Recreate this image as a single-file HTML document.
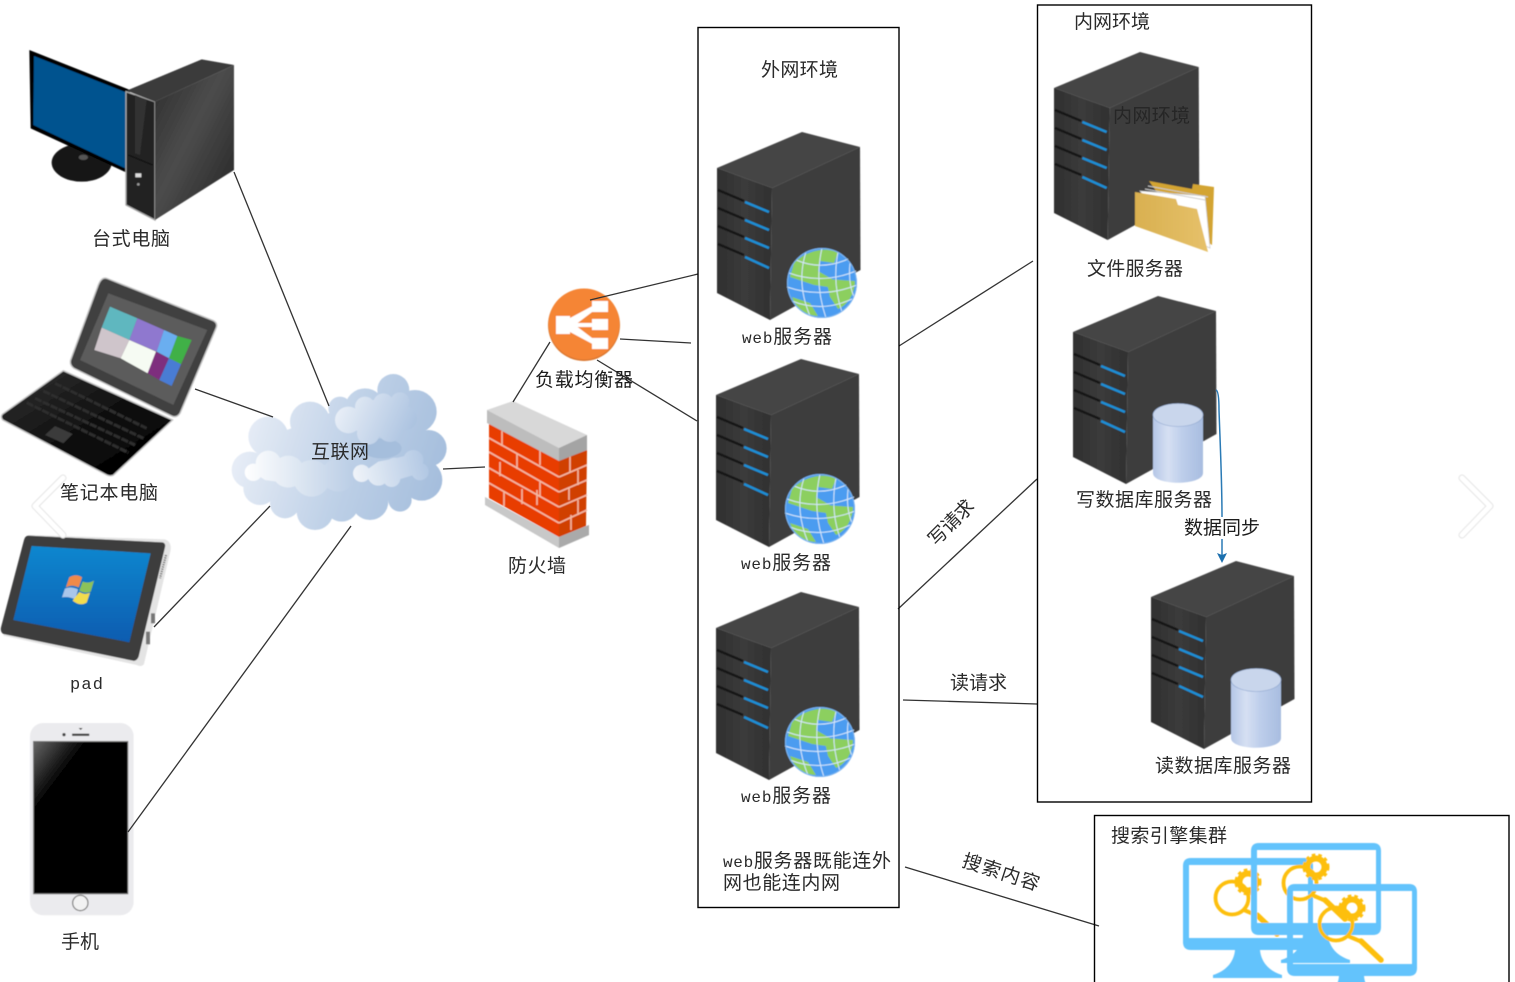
<!DOCTYPE html>
<html><head><meta charset="utf-8"><style>
html,body{margin:0;padding:0;background:#fff;width:1515px;height:982px;overflow:hidden}
svg{display:block}
text{font-family:"Liberation Sans","Noto Sans CJK SC",sans-serif;font-size:19px;fill:#2a2a2a}
.m{font-family:"Liberation Mono","Noto Sans CJK SC",monospace}
.w{font-family:"Liberation Mono",monospace;font-size:16px}
</style></head><body>
<svg width="1515" height="982" viewBox="0 0 1515 982" xmlns="http://www.w3.org/2000/svg">
<defs>
<filter id="b" x="-5%" y="-5%" width="110%" height="110%"><feGaussianBlur stdDeviation="0.45"/></filter>
<filter id="t" x="-5%" y="-20%" width="110%" height="140%"><feGaussianBlur stdDeviation="0.25"/></filter>
<linearGradient id="cl" gradientUnits="userSpaceOnUse" x1="60" y1="200" x2="640" y2="380"><stop offset="0" stop-color="#e6ecf6"/><stop offset=".55" stop-color="#bccfe6"/><stop offset="1" stop-color="#a5bedd"/></linearGradient>
<linearGradient id="c2" gradientUnits="userSpaceOnUse" x1="340" y1="130" x2="570" y2="230"><stop offset="0" stop-color="#e8eef7"/><stop offset="1" stop-color="#a6bfde"/></linearGradient>
<linearGradient id="c4" gradientUnits="userSpaceOnUse" x1="390" y1="340" x2="640" y2="290"><stop offset="0" stop-color="#eff3f9"/><stop offset="1" stop-color="#a8c1e0"/></linearGradient>
<linearGradient id="c3" gradientUnits="userSpaceOnUse" x1="60" y1="320" x2="400" y2="320"><stop offset="0" stop-color="#fff"/><stop offset="1" stop-color="#b7cbe4"/></linearGradient>
<linearGradient id="tw" x1="0" y1="0" x2="1" y2="1"><stop offset="0" stop-color="#2c2c2c"/><stop offset=".45" stop-color="#4c4c4c"/><stop offset="1" stop-color="#222"/></linearGradient>
<linearGradient id="lb" x1="0" y1="0" x2="1" y2="1"><stop offset="0" stop-color="#333"/><stop offset=".6" stop-color="#0a0a0a"/><stop offset="1" stop-color="#000"/></linearGradient>
<linearGradient id="pb" x1="0" y1="0" x2="0" y2="1"><stop offset="0" stop-color="#1187cf"/><stop offset="1" stop-color="#0a5cb0"/></linearGradient>
<linearGradient id="ref" x1="0" y1="0" x2="1" y2="1"><stop offset="0" stop-color="#666"/><stop offset=".45" stop-color="#000"/></linearGradient>
<linearGradient id="db" x1="0" y1="0" x2="1" y2="0"><stop offset="0" stop-color="#b4c6e6"/><stop offset=".3" stop-color="#d6e0f3"/><stop offset=".6" stop-color="#bccdea"/><stop offset="1" stop-color="#a8bde0"/></linearGradient>
<linearGradient id="fd" x1="0" y1="0" x2="1" y2="0"><stop offset="0" stop-color="#d9b050"/><stop offset="1" stop-color="#e6c16a"/></linearGradient>
<linearGradient id="frn" x1="0" y1="0" x2="1" y2="0"><stop offset="0" stop-color="#2f2f2f"/><stop offset=".5" stop-color="#3b3b3b"/><stop offset="1" stop-color="#303030"/></linearGradient>

<g id="server">
 <polygon points="0,36 85,0 143,15 55,56" fill="#454545"/>
 <polygon points="55,56 143,15 143.5,138 53,188" fill="#3e3e3e"/>
 <polygon points="0,36 55,56 53,188 0,161" fill="url(#frn)"/>
 <g fill="none">
  <path d="M1 58 L27 69" stroke="#171717" stroke-width="2.4"/><path d="M28 70 L52 80" stroke="#1a8fd6" stroke-width="2.4"/>
  <path d="M1 76 L27 87" stroke="#171717" stroke-width="2.4"/><path d="M28 88 L52 98" stroke="#1a8fd6" stroke-width="2.4"/>
  <path d="M1 94 L27 105" stroke="#171717" stroke-width="2.4"/><path d="M28 106 L52 116" stroke="#1a8fd6" stroke-width="2.4"/>
  <path d="M1 112 L27 123" stroke="#171717" stroke-width="2.4"/><path d="M28 125 L52 136" stroke="#1a8fd6" stroke-width="2.4"/>
 </g>
</g>

<g id="globe">
 <circle cx="0" cy="0" r="35" fill="#4b9cf0"/>
 <path d="M-28 -20 C-14 -34 6 -36 16 -30 L12 -20 L-2 -22 L-4 -12 L10 -4 L6 4 L-8 2 L-20 -2 L-32 -6 Z" fill="#8ccf5e"/>
 <path d="M4 -4 L33 -2 C33 10 26 22 16 26 L8 14 Z" fill="#8ccf5e"/>
 <path d="M-30 14 L-12 20 L-4 33 C-14 33 -26 26 -30 14 Z" fill="#8ccf5e"/>
 <g fill="none" stroke="#d6e8fb" stroke-width="1">
  <path d="M-33 -10 Q0 2 34 -12 M-35 4 Q0 16 35 2 M-30 18 Q0 30 30 16 M-26 -23 Q0 -12 26 -24"/>
  <path d="M-16 -31 Q-26 0 -12 33 M0 -35 Q-8 0 4 35 M16 -31 Q10 0 20 29 M28 -20 Q26 0 32 14"/>
 </g>
 <circle cx="0" cy="0" r="34.5" fill="none" stroke="#7fb5ef" stroke-width="1"/>
</g>

<g id="db1">
 <path d="M0 12 C0 -3 50 -3 50 12 L50 70 C50 83 0 83 0 70 Z" fill="url(#db)"/>
 <ellipse cx="25" cy="12" rx="25" ry="11.5" fill="#c9d6ec" stroke="#8fa7cf" stroke-width=".6"/>
</g>

<g id="mag">
 <circle cx="1232" cy="898" r="16.5" fill="none" stroke="#fdbf10" stroke-width="3.8"/>
 <path d="M1257 915 L1277 934" stroke="#fdbf10" stroke-width="5.5" stroke-linecap="round"/>
 <path d="M1244 910 L1258 916" stroke="#fdbf10" stroke-width="4"/>
 <circle cx="1248" cy="882" r="8.5" fill="none" stroke="#fdbf10" stroke-width="6"/>
 <circle cx="1248" cy="882" r="12" fill="none" stroke="#fdbf10" stroke-width="3" stroke-dasharray="3.5 3"/>
</g>
<g id="mon" fill="#64c3fc">
 <path fill-rule="evenodd" d="M8 0 H122 Q130 0 130 8 V84 Q130 92 122 92 H8 Q0 92 0 84 V8 Q0 0 8 0 Z M6 7 V80 H125 V7 Z"/>
 <path d="M52 92 H77 C78 104 86 113 99 117 V120 H30 V117 C43 113 51 104 52 92 Z"/>
</g>
</defs>

<g filter="url(#b)">
<!-- desktop -->
<g transform="translate(0,30) scale(.3333)">
 <ellipse cx="245" cy="398" rx="90" ry="57" fill="#151515"/>
 <ellipse cx="250" cy="382" rx="14" ry="8" fill="#555"/>
 <polygon points="88,60 390,180 380,428 92,295" fill="#050505"/>
 <polygon points="102,78 385,190 376,415 100,285" fill="#03528f"/>
 <polygon points="378,185 465,215 465,570 378,525" fill="#222" stroke="#a8a8a8" stroke-width="4"/>
 <polygon points="405,195 440,210 420,375 405,370" fill="#333"/>
 <path d="M385 375 L458 405" stroke="#111" stroke-width="3"/>
 <rect x="406" y="430" width="18" height="12" fill="#ddd"/><circle cx="415" cy="463" r="4" fill="#999"/>
 <polygon points="380,182 605,88 702,105 465,215" fill="#3a3a3a"/>
 <polygon points="465,215 702,105 702,420 465,570" fill="url(#tw)"/>
</g>

<!-- laptop -->
<g transform="translate(0,30) scale(.3333)">
 <path d="M320 745 L640 872 Q655 880 648 895 L540 1150 Q530 1165 515 1158 L222 1015 Q208 1005 212 990 L295 765 Q305 740 320 745 Z" fill="#3f3f3f" stroke="#c4c4c4" stroke-width="4"/>
 <polygon points="325,790 622,900 520,1125 240,990" fill="#5c5c5c"/>
 <polygon points="330,830 412,865 388,930 305,893" fill="#5fb7bf"/>
 <polygon points="412,865 492,900 470,965 388,930" fill="#8f78cf"/>
 <polygon points="492,900 532,918 507,985 470,965" fill="#6aaef0"/>
 <polygon points="532,918 575,930 543,1003 507,985" fill="#40b047"/>
 <polygon points="305,893 388,930 362,985 283,960" fill="#cfc5cb"/>
 <polygon points="388,930 468,965 443,1030 362,985" fill="#f6fbf3"/>
 <polygon points="468,965 507,985 478,1050 443,1030" fill="#7e2d7e"/>
 <polygon points="507,985 543,1003 515,1068 478,1050" fill="#4a7bd4"/>
 <path d="M190 1022 L518 1170 L340 1336 Q330 1340 320 1335 L8 1170 Q0 1160 8 1152 Z" fill="url(#lb)" stroke="#c8c8c8" stroke-width="4"/>
 <g stroke="#2e2e2e" stroke-width="9" stroke-dasharray="22 4" fill="none">
  <path d="M165 1060 L440 1195"/><path d="M130 1083 L430 1225"/><path d="M105 1105 L405 1245"/><path d="M80 1118 L385 1268"/>
 </g>
 <polygon points="165,1188 218,1212 190,1240 135,1215" fill="#3a3a3a"/>
</g>

<!-- pad -->
<g transform="translate(0,470) scale(.3333)">
 <path d="M85 195 L495 208 Q515 215 512 240 L432 582 Q425 592 410 585 L10 497 Z" fill="#e4e4e4"/>
 <path d="M85 197 L488 217 Q498 220 495 232 L416 560 Q410 575 398 572 L10 492 Q0 485 3 472 L72 210 Q75 198 85 197 Z" fill="#3d3d3d"/>
 <polygon points="95,228 452,250 388,517 40,450" fill="url(#pb)"/>
 <path d="M208 322 Q228 310 246 322 L236 352 Q215 342 198 352 Z" fill="#ef8a4a"/>
 <path d="M248 335 Q265 342 282 332 L272 365 Q255 372 238 362 Z" fill="#8cc25a"/>
 <path d="M195 356 Q212 348 234 358 L226 388 Q205 378 186 382 Z" fill="#a9c6ea"/>
 <path d="M238 366 Q255 376 270 368 L260 398 Q240 410 218 392 Z" fill="#f2dc4e"/>
 <g fill="#777"><rect x="453" y="430" width="12" height="30"/><rect x="438" y="485" width="12" height="38"/></g>
 <path d="M498 255 L480 325" stroke="#777" stroke-width="7" stroke-dasharray="4 3"/>
</g>

<!-- phone -->
<g transform="translate(0,470) scale(.3333)">
 <rect x="90" y="759" width="311" height="577" rx="40" fill="#ebebee"/>
 <rect x="99" y="813" width="286" height="460" fill="#777"/>
 <rect x="102" y="816" width="280" height="454" fill="#000"/>
 <polygon points="102,816 280,816 102,1050" fill="url(#ref)"/>
 <rect x="216" y="791" width="52" height="7" rx="2" fill="#444"/><circle cx="192" cy="794" r="5" fill="#444"/><path d="M236 774 H248 L242 780 Z" fill="#333"/>
 <circle cx="241" cy="1299" r="23" fill="#f2f2f2" stroke="#777" stroke-width="3.5"/>
</g>

<!-- cloud -->
<g transform="translate(225,365) scale(.3333)">
 <g fill="url(#cl)">
  <polygon points="75,315 130,215 255,170 345,130 420,130 505,75 570,140 610,250 590,345 525,405 435,410 350,420 270,440 180,415 105,370"/>
  <circle cx="75" cy="315" r="55"/><circle cx="130" cy="215" r="60"/><circle cx="255" cy="170" r="60"/><circle cx="345" cy="130" r="35"/><circle cx="420" cy="130" r="60"/><circle cx="505" cy="75" r="48"/><circle cx="570" cy="140" r="65"/><circle cx="610" cy="250" r="55"/><circle cx="590" cy="345" r="62"/><circle cx="525" cy="405" r="35"/><circle cx="435" cy="410" r="55"/><circle cx="350" cy="420" r="50"/><circle cx="270" cy="440" r="55"/><circle cx="180" cy="415" r="45"/><circle cx="105" cy="370" r="50"/>
 </g>
 <ellipse cx="470" cy="250" rx="60" ry="30" fill="#a5bedc"/>
 <g fill="url(#c3)">
  <polygon points="90,325 130,285 190,300 340,300 385,330 340,365 260,375 190,355 120,345"/>
  <circle cx="85" cy="322" r="26"/><circle cx="130" cy="295" r="38"/><circle cx="190" cy="320" r="48"/><circle cx="260" cy="340" r="55"/><circle cx="340" cy="330" r="50"/>
 </g>
 <g fill="url(#c2)">
  <polygon points="370,165 420,110 470,100 520,100 560,150 530,190 490,215 410,215"/>
  <circle cx="370" cy="165" r="40"/><circle cx="420" cy="125" r="30"/><circle cx="475" cy="115" r="30"/><circle cx="525" cy="110" r="28"/><circle cx="540" cy="160" r="36"/><circle cx="495" cy="195" r="36"/><circle cx="430" cy="205" r="34"/>
 </g>
 <g fill="url(#c4)">
  <polygon points="410,325 460,290 510,280 570,265 600,320 500,350 440,350"/>
  <circle cx="410" cy="325" r="26"/><circle cx="460" cy="330" r="32"/><circle cx="510" cy="310" r="32"/><circle cx="565" cy="285" r="30"/><circle cx="585" cy="320" r="26"/><circle cx="500" cy="340" r="26"/>
 </g>
</g>

<!-- firewall -->
<polygon points="485,497 559,537 589,525 589,535 559,548 485,505" fill="#c8c8c8"/>
<polygon points="559,537 589,525 589,535 559,548" fill="#aaa"/>
<polygon points="489,420 559,460 559,537 489,498" fill="#e83e02"/>
<polygon points="559,460 587,450 586,526 559,537" fill="#d04000"/>
<g stroke="#f4b8a2" stroke-width="1.6" fill="none">
 <path d="M489 438 L559 477 M489 452 L559 492 M489 468 L559 507 M489 483 L559 523"/>
 <path d="M559 477 L587 465 M559 492 L587 480 M559 507 L587 495 M559 523 L587 510"/>
 <path d="M502 431 V446 M517 454 V469 M540 450 V465 M500 462 V476 M522 489 V504 M537 490 V505 M504 492 V506 M540 482 V497"/>
 <path d="M570 455 V472 M578 470 V485 M569 487 V500 M578 500 V515 M571 515 V530"/>
</g>
<polygon points="487,410 513,401 587,435 559,448" fill="#d8d8d8"/>
<polygon points="487,410 559,448 559,461 487,423" fill="#bdbdbd"/>
<polygon points="559,448 587,435 587,450 559,461" fill="#a4a4a4"/>

<!-- load balancer -->
<circle cx="584" cy="325" r="36" fill="#d9762f"/>
<circle cx="584" cy="324" r="35.5" fill="#f58536"/>
<g fill="#fff">
 <rect x="556" y="316" width="14" height="18"/><polygon points="570,318 600,302 600,306 575,325 600,344 600,348 570,332"/>
 <rect x="592" y="301" width="16" height="11"/><rect x="592" y="319" width="16" height="11"/><rect x="592" y="338" width="16" height="11"/><rect x="570" y="323" width="24" height="4"/>
</g>

<!-- servers -->
<use href="#server" x="717" y="132"/><use href="#globe" x="822" y="283"/>
<use href="#server" x="716" y="359"/><use href="#globe" x="820" y="509"/>
<use href="#server" x="716" y="592"/><use href="#globe" x="820" y="742"/>
<use href="#server" transform="translate(1054,52) scale(1.012,1)"/>
<use href="#server" x="1073" y="296"/>
<use href="#server" x="1151" y="561"/>
<use href="#db1" x="1153" y="403"/>
<use href="#db1" x="1231" y="668"/>

<!-- folder -->
<polygon points="1149,181 1192,189 1193,184 1214,187 1212,245 1180,225" fill="#d3a432"/>
<polygon points="1140,191 1205,196 1210,248 1170,230" fill="#fff" stroke="#c9c9c9" stroke-width=".7"/>
<path d="M1145 189 L1205 200 M1148 186 L1208 197" stroke="#ccc" stroke-width="1"/>
<polygon points="1135,192 1176,199 1178,205 1197,209 1208,252 1135,226" fill="url(#fd)"/>

<!-- search icons -->
<use href="#mag"/>
<use href="#mon" x="1183" y="858"/>
<use href="#mag" x="68" y="-15"/>
<use href="#mon" x="1251" y="843"/>
<use href="#mag" x="104" y="26"/>
<use href="#mon" x="1287" y="884"/>

<!-- chevrons -->
<g fill="none" stroke-linecap="round" stroke-linejoin="round">
 <path d="M63 478 L35 506 L63 535" stroke="#e4e4e4" stroke-width="7"/>
 <path d="M63 478 L35 506 L63 535" stroke="#fff" stroke-width="5"/>
 <path d="M1462 478 L1490 506 L1462 535" stroke="#e4e4e4" stroke-width="7"/>
 <path d="M1462 478 L1490 506 L1462 535" stroke="#fff" stroke-width="5"/>
</g>
</g>

<!-- connectors, frames -->
<g filter="url(#t)">
<g stroke="#333" stroke-width="1.3" fill="none">
 <path d="M234 172 L329 406"/><path d="M195 389 L273 417"/><path d="M270 506 L154 627"/><path d="M351 526 L128 832"/>
 <path d="M443 469 L485 467"/><path d="M513 402 L550 342"/><path d="M590 300 L698 274"/><path d="M620 339 L691 343"/><path d="M597 360 L697 421"/>
 <path d="M899 346 L1033 261"/><path d="M898 609 L1037 479"/><path d="M903 700 L1037 704"/><path d="M905 867 L1099 926"/>
</g>
<g fill="none" stroke="#000" stroke-width="1.4">
 <rect x="698" y="27.5" width="201" height="880"/>
 <rect x="1037.5" y="5" width="274" height="797"/>
 <rect x="1094.5" y="815.5" width="414.5" height="180"/>
</g>
<path d="M1216 390 Q1219 391 1219 410 C1220 440 1222 480 1222 517 M1222 539 V556" fill="none" stroke="#2a7ab5" stroke-width="1.5"/>
<polygon points="1217,553 1222,563 1227,553 1222,555" fill="#1f6fae"/>
</g>

<!-- labels -->
<g filter="url(#t)">
<text x="92" y="245" textLength="78" lengthAdjust="spacing">台式电脑</text>
<text x="60" y="499" textLength="98" lengthAdjust="spacing">笔记本电脑</text>
<text x="70" y="689" textLength="33" lengthAdjust="spacing" class="m" style="font-size:17px">pad</text>
<text x="61" y="948" textLength="38" lengthAdjust="spacing">手机</text>
<text x="311" y="458" textLength="58" lengthAdjust="spacing">互联网</text>
<text x="508" y="572" textLength="58" lengthAdjust="spacing">防火墙</text>
<text x="535" y="386" textLength="98" lengthAdjust="spacing" style="fill:#1c1c1c">负载均衡器</text>
<text x="761" y="76" textLength="77" lengthAdjust="spacing">外网环境</text>
<text x="742" y="343" textLength="90" lengthAdjust="spacing"><tspan class="w">web</tspan>服务器</text>
<text x="741" y="569" textLength="90" lengthAdjust="spacing"><tspan class="w">web</tspan>服务器</text>
<text x="741" y="802" textLength="90" lengthAdjust="spacing"><tspan class="w">web</tspan>服务器</text>
<text x="723" y="867" textLength="168" lengthAdjust="spacing"><tspan class="w">web</tspan>服务器既能连外</text>
<text x="723" y="889" textLength="117" lengthAdjust="spacing">网也能连内网</text>
<text x="1074" y="28" textLength="76" lengthAdjust="spacing">内网环境</text>
<text x="1113" y="122" textLength="77" lengthAdjust="spacing" style="fill:#252525">内网环境</text>
<text x="1087" y="275" textLength="96" lengthAdjust="spacing">文件服务器</text>
<text x="1076" y="506" textLength="136" lengthAdjust="spacing">写数据库服务器</text>
<text x="1184" y="534" textLength="76" lengthAdjust="spacing" style="fill:#1c1c1c">数据同步</text>
<text x="1155" y="772" textLength="136" lengthAdjust="spacing">读数据库服务器</text>
<text x="950" y="689" textLength="57" lengthAdjust="spacing">读请求</text>
<text x="1111" y="842" textLength="116" lengthAdjust="spacing">搜索引擎集群</text>
<text transform="translate(936,547) rotate(-45)" textLength="56" lengthAdjust="spacing">写请求</text>
<text transform="translate(961,866) rotate(18)" textLength="80" lengthAdjust="spacing">搜索内容</text>
</g>
</svg>
</body></html>
